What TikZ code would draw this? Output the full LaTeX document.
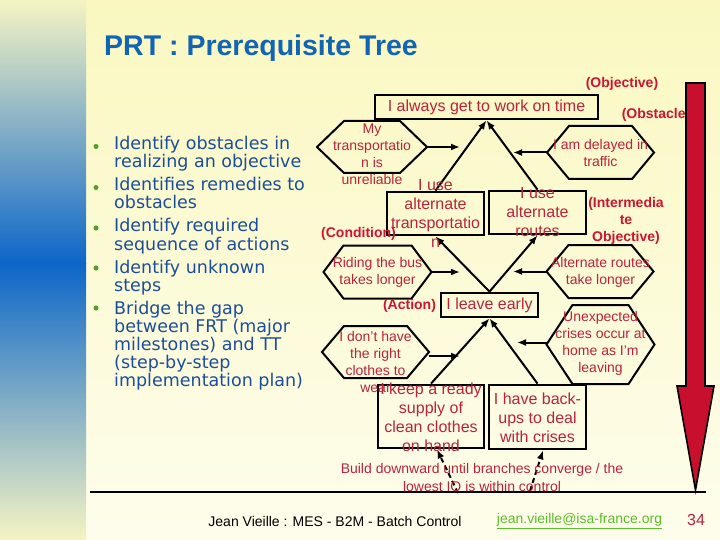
\documentclass[tikz,border=0pt]{standalone}
\usepackage{fontspec}
\setmainfont{Liberation Sans}
\newfontfamily\bulfont{DejaVu Sans}
\usetikzlibrary{arrows.meta,calc}
\definecolor{bgtop}{RGB}{250,248,192}
\definecolor{bgbot}{RGB}{254,253,236}
\definecolor{stripy}{RGB}{246,244,196}
\definecolor{stripb}{RGB}{12,102,200}
\definecolor{titleblue}{RGB}{20,100,180}
\definecolor{bultext}{RGB}{28,78,152}
\definecolor{dotgreen}{RGB}{80,160,40}
\definecolor{txtred}{RGB}{185,35,60}
\definecolor{lblred}{RGB}{205,20,50}
\definecolor{arrred}{RGB}{200,16,46}
\definecolor{mailgreen}{RGB}{90,190,40}
\newcommand\hexout[2]{\draw[hexline] (#1.west) -- ([xshift=#2]#1.north west) -- ([xshift=-#2]#1.north east) -- (#1.east) -- ([xshift=-#2]#1.south east) -- ([xshift=#2]#1.south west) -- cycle;}
\begin{document}
\begin{tikzpicture}[x=1pt,y=-1pt,
  hexbox/.style={rectangle,draw=none,inner sep=0pt,outer sep=0pt},
  hexline/.style={draw=black,line width=2pt,line join=miter},
  htxt/.style={font=\fontsize{14}{17}\selectfont,align=center,text=txtred,inner sep=0pt},
  boxn/.style={rectangle,draw=black,line width=2.8pt,inner sep=0pt},
  btxt/.style={font=\fontsize{16}{19}\selectfont,align=center,text=txtred,inner sep=0pt},
  lbl/.style={font=\fontsize{14}{17}\selectfont\bfseries,align=center,text=lblred,inner sep=0pt},
  arr/.style={draw=black,line width=2pt,-{Latex[length=9pt,width=7pt]}},
  darr/.style={arr,dash pattern=on 5pt off 3.5pt},
  bul/.style={font=\bulfont\fontsize{17.5}{18}\selectfont,text=bultext,anchor=base west,inner sep=0pt},
  bdot/.style={circle,fill=dotgreen,draw=none,minimum size=5pt,inner sep=0pt},
]
% background
\fill[top color=bgtop,bottom color=bgbot] (0,0) rectangle (720,540);
\useasboundingbox (0,0) rectangle (720,540);
\fill[top color=stripy,bottom color=stripb] (0,0) rectangle (86,263.5);
\fill[top color=stripb,bottom color=stripy] (0,263) rectangle (86,540);

% title
\node[font=\fontsize{28.5}{30}\selectfont\bfseries,text=titleblue,anchor=base west,inner sep=0pt] (title) at (104,56) {PRT : Prerequisite Tree};

% bullets
\foreach \yy/\s [count=\i] in {150/{Identify obstacles in}, 168/{realizing an objective}, 191/{Identifies remedies to}, 208/{obstacles}, 232/{Identify required}, 250/{sequence of actions}, 273/{Identify unknown}, 291/{steps}, 314/{Bridge the gap}, 332/{between FRT (major}, 350/{milestones) and TT}, 368/{(step-by-step}, 386/{implementation plan)}}
  \node[bul] (bl\i) at (114,\yy) {\s};
\foreach \yy [count=\i] in {146.5,187.5,228,268,308}
  \node[bdot] (dot\i) at (96,\yy) {};

% objective
\node[boxn,minimum width=223pt,minimum height=24pt] (obj) at (486.5,107) {};
\node[btxt] (objt) at (486.5,107) {I always get to work on time};
\node[lbl] (lobj) at (622,84) {(Objective)};
\node[lbl] (lobs) at (656,115) {(Obstacle)};

% hexagon nodes
\node[hexbox,minimum width=110pt,minimum height=52pt] (h1) at (372,147) {};
\node[hexbox,minimum width=107pt,minimum height=53pt] (h2) at (600.5,152.5) {};
\node[hexbox,minimum width=108pt,minimum height=53pt] (h3) at (377.5,272) {};
\node[hexbox,minimum width=107pt,minimum height=53pt] (h4) at (600,271.5) {};
\node[hexbox,minimum width=107pt,minimum height=52pt] (h5) at (375.5,352) {};
\node[hexbox,minimum width=108pt,minimum height=79pt] (h6) at (600.5,344.5) {};
\hexout{h1}{27pt}
\hexout{h2}{22pt}
\hexout{h3}{20pt}
\hexout{h4}{22pt}
\hexout{h5}{22pt}
\hexout{h6}{26pt}

% boxes
\node[boxn,minimum width=97pt,minimum height=43pt] (b1) at (435.5,213.5) {};
\node[boxn,minimum width=97pt,minimum height=43pt] (b2) at (537.5,212.5) {};
\node[boxn,minimum width=97pt,minimum height=24pt] (leave) at (489.5,305) {};
\node[boxn,minimum width=106pt,minimum height=63pt] (b3) at (431,416.5) {};
\node[boxn,minimum width=97pt,minimum height=64pt] (b4) at (537.5,417) {};

% connectors
\draw[arr] (b1.north) -- (obj.south);
\draw[arr] (b2.north) -- (obj.south);
\draw[arr] (leave.north) -- (b1.south);
\draw[arr] (leave.north) -- (b2.south);
\draw[arr] (b3.north) -- (leave.south);
\draw[arr] (b4.north) -- (leave.south);
\coordinate (e1) at (460,0);
\coordinate (e2) at (513,0);
\coordinate (e3) at (517,0);
\draw[arr] (h1.east) -- (h1.east -| e1);
\draw[arr] (h2.west) -- (h2.west -| e2);
\draw[arr] (h3.east) -- (h3.east -| e1);
\draw[arr] (h4.west) -- (h4.west -| e2);
\draw[arr] ([yshift=-4pt]h5.east) -- ([yshift=-4pt]h5.east -| e1);
\draw[arr] ([yshift=2pt]h6.west) -- ([yshift=2pt]h6.west -| e3);
\coordinate (f1) at (458,493);
\coordinate (f2) at (530,491);
\draw[darr] (f1) -- ([xshift=6pt]b3.south);
\draw[darr] (f2) -- ([xshift=5.5pt]b4.south);

% texts
\node[htxt] (h1t) at (372,154) {My\\transportatio\\n is\\unreliable};
\node[htxt] (h2t) at (600.5,152.5) {I am delayed in\\traffic};
\node[htxt] (h3t) at (377.5,272.5) {Riding the bus\\takes longer};
\node[htxt] (h4t) at (600.5,272.5) {Alternate routes\\take longer};
\node[htxt] (h5t) at (375.5,362) {I don't have\\the right\\clothes to\\wear};
\node[htxt] (h6t) at (600.5,343.5) {Unexpected\\crises occur at\\home as I'm\\leaving};
\node[btxt] (b1t) at (435.5,213.5) {I use\\alternate\\transportatio\\n};
\node[btxt] (b2t) at (537.5,212.5) {I use\\alternate\\routes};
\node[btxt] (leavet) at (489.5,305) {I leave early};
\node[btxt] (b3t) at (431,417) {I keep a ready\\supply of\\clean clothes\\on hand};
\node[btxt] (b4t) at (537.5,417.5) {I have back-\\ups to deal\\with crises};
\node[lbl] (lcond) at (358.5,234) {(Condition)};
\node[lbl] (linter) at (626,221) {(Intermedia\\te\\Objective)};
\node[lbl] (lact) at (409.5,306) {(Action)};
\node[htxt,font=\fontsize{14}{18}\selectfont] (build) at (482,477) {Build downward until branches converge / the\\lowest IO is within control};

% rule and big arrow
\coordinate (r1) at (90,492);
\coordinate (r2) at (706,492);
\draw[line width=2pt] (r1) -- (r2);
\draw[fill=arrred,draw=black,line width=1.6pt,line join=miter] (686,83) -- (705,83) -- (705,386) -- (714,386) -- (695.5,490) -- (677,386) -- (686,386) -- cycle;

% footer
\node[font=\fontsize{14}{17}\selectfont,text=black,inner sep=0pt] (foot) at (335,521) {Jean Vieille : MES - B2M - Batch Control};
\node[font=\fontsize{14}{17}\selectfont,text=mailgreen,inner sep=0pt] (mail) at (579.5,521) {\underline{jean.vieille@isa-france.org}};
\node[font=\fontsize{16}{18}\selectfont,text=txtred,inner sep=0pt] (pnum) at (696,520) {34};
\end{tikzpicture}
\end{document}
